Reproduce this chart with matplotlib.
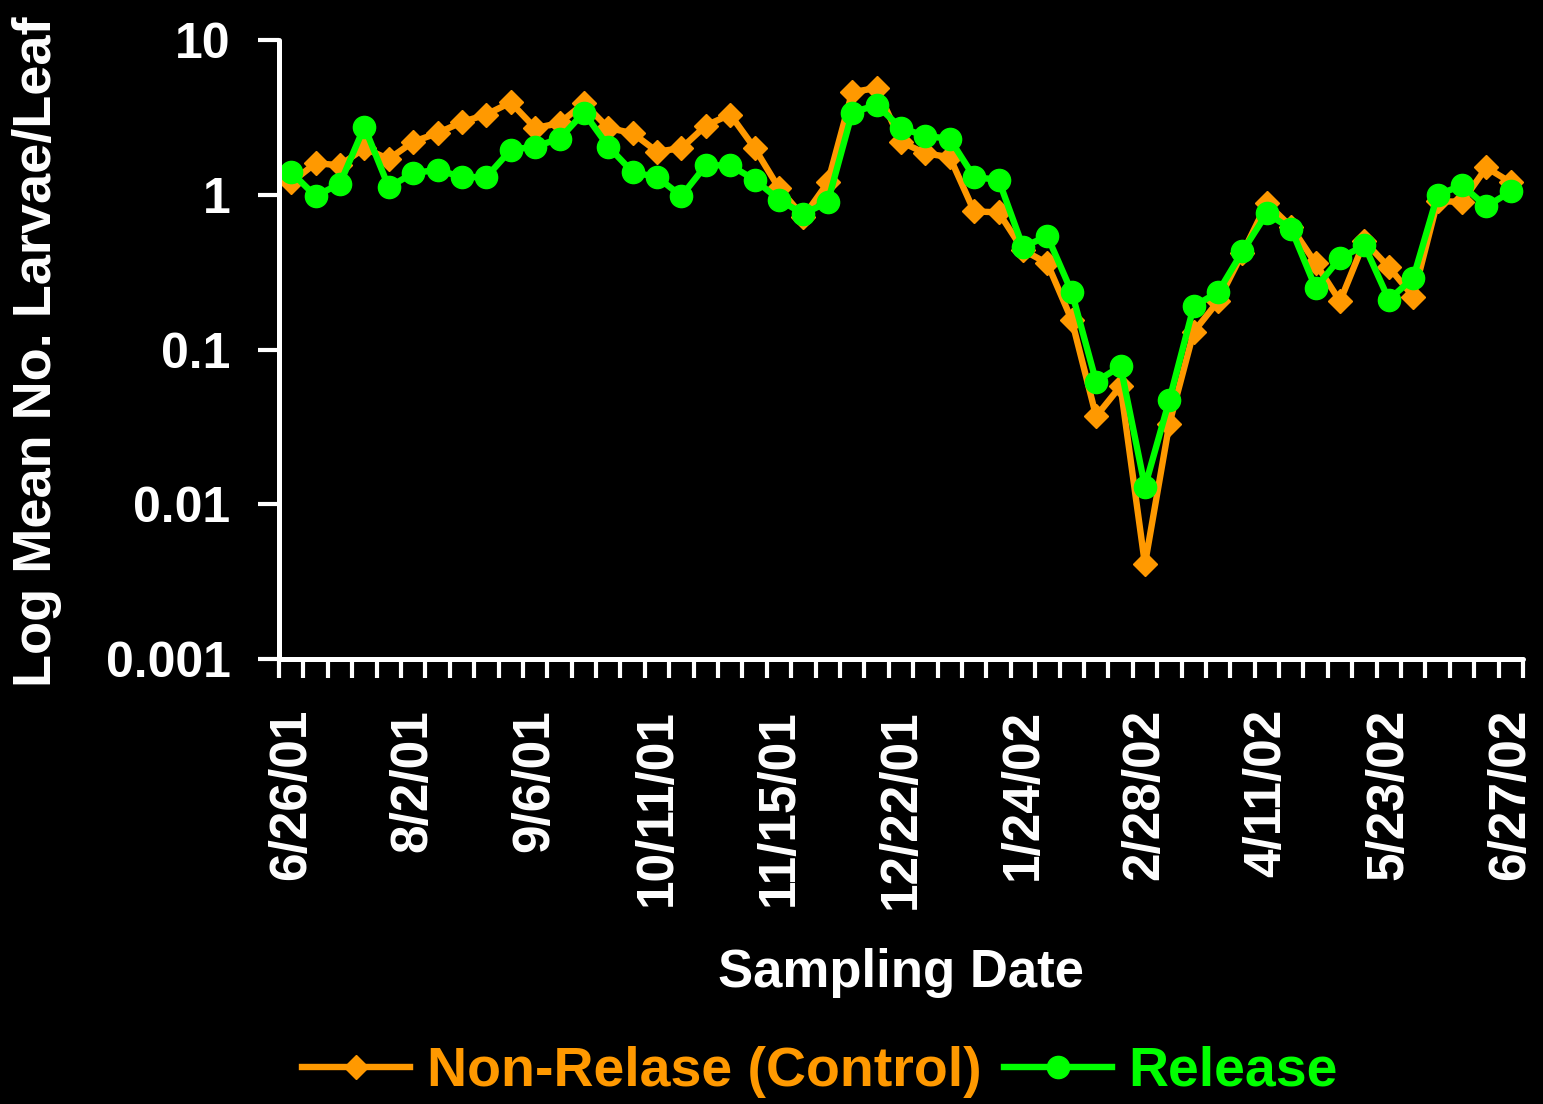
import numpy as np
import matplotlib
matplotlib.use('Agg')
import matplotlib.pyplot as plt

plt.rcParams['font.family'] = ['Liberation Sans', 'DejaVu Sans']
plt.rcParams['font.weight'] = 'bold'

# weekly samples, only every 5th date is labelled on the axis
date_labels = ['6/26/01', '8/2/01', '9/6/01', '10/11/01', '11/15/01', '12/22/01',
               '1/24/02', '2/28/02', '4/11/02', '5/23/02', '6/27/02']
label_step = 5

non_release = [1.2, 1.6, 1.55, 2.0, 1.7, 2.2, 2.5, 2.95, 3.3, 3.95,
               2.7, 2.9, 3.9, 2.7, 2.5, 1.9, 2.0, 2.8, 3.3, 2.0,
               1.1, 0.72, 1.2, 4.6, 4.9, 2.2, 1.85, 1.75, 0.78, 0.77,
               0.44, 0.36, 0.155, 0.037, 0.058, 0.0041, 0.033, 0.13, 0.205, 0.42,
               0.88, 0.62, 0.36, 0.205, 0.5, 0.34, 0.22, 0.91, 0.9, 1.5,
               1.2]
release = [1.4, 0.98, 1.18, 2.75, 1.12, 1.38, 1.45, 1.3, 1.3, 1.95,
           2.05, 2.3, 3.4, 2.05, 1.4, 1.3, 0.98, 1.55, 1.55, 1.25,
           0.93, 0.75, 0.9, 3.4, 3.8, 2.7, 2.4, 2.3, 1.3, 1.25,
           0.46, 0.54, 0.235, 0.062, 0.078, 0.013, 0.047, 0.19, 0.235, 0.43,
           0.76, 0.6, 0.25, 0.39, 0.47, 0.21, 0.29, 1.0, 1.15, 0.84,
           1.05]

orange = '#FF9900'
green = '#00FF00'

x = np.arange(len(non_release))

fig = plt.figure(figsize=(15.43, 11.04), dpi=100, facecolor='black')
ax = fig.add_axes([279/1543, 1 - 659/1104, (1523 - 279)/1543, (659 - 40)/1104])
ax.set_facecolor('black')

ax.plot(x, non_release, color=orange, lw=4.6, marker='D', ms=12,
        mec=orange, mew=1, label='Non-Relase (Control)', solid_joinstyle='round')
ax.plot(x, release, color=green, lw=4.6, marker='o', ms=16,
        mec=green, label='Release', solid_joinstyle='round')

ax.set_yscale('log')
ax.set_ylim(0.001, 10)
ax.set_yticks([10, 1, 0.1, 0.01, 0.001])
ax.set_yticklabels(['10', '1', '0.1', '0.01', '0.001'])
ax.yaxis.set_minor_locator(matplotlib.ticker.NullLocator())

ax.set_xlim(-0.5, len(x) - 0.5)
ax.set_xticks(np.arange(len(x) + 1) - 0.5, minor=True)
ax.set_xticks(np.arange(0, len(x), label_step))
ax.set_xticklabels(date_labels, rotation=90, va='top', ha='center')
ax.tick_params(axis='x', which='major', length=0, pad=36, labelsize=37, colors='white')
ax.tick_params(axis='x', which='minor', length=14, width=3, direction='out', color='white')
ax.tick_params(axis='y', length=15, width=3, pad=20, labelsize=36, colors='white')

for s in ['top', 'right']:
    ax.spines[s].set_visible(False)
for s in ['left', 'bottom']:
    ax.spines[s].set_color('white')
    ax.spines[s].set_linewidth(3.6)
    ax.spines[s].set_capstyle('round')

fig.text(37/1543, 1 - 352/1104, 'Log Mean No. Larvae/Leaf', rotation=90,
         ha='center', va='center', color='white', fontsize=39, fontweight='bold')
fig.text(901/1543, 1 - 987/1104, 'Sampling Date', ha='center', va='baseline',
         color='white', fontsize=38, fontweight='bold')

leg = fig.legend(loc='center', bbox_to_anchor=(820/1543, 1 - 1072/1104), ncol=2,
                 frameon=False, fontsize=40, labelcolor='linecolor',
                 handlelength=1.95, handletextpad=0.3, columnspacing=0.4)

fig.savefig('out.png', dpi=100, facecolor='black')
